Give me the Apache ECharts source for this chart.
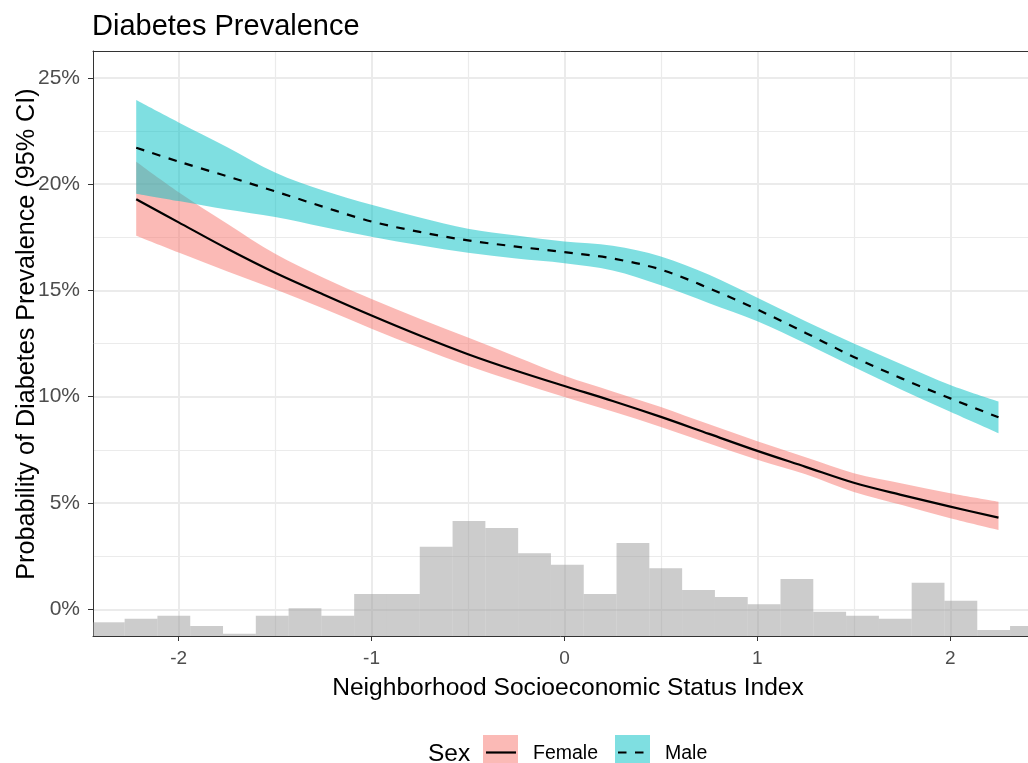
<!DOCTYPE html>
<html>
<head>
<meta charset="utf-8">
<script src="https://cdn.jsdelivr.net/npm/echarts@6/dist/echarts.min.js"></script>
<style>html,body{margin:0;padding:0;background:#fff}#c{width:1028px;height:763px}</style>
</head>
<body>
<div id="c"></div>
<script>
// ---- data ----
const xGrid = [-2.22, -2, -1.75, -1.5, -1.25, -1, -0.75, -0.5, -0.25, 0, 0.25, 0.5, 0.75, 1, 1.25, 1.5, 1.75, 2, 2.25];

const femaleFit   = [19.29, 18.2, 16.97, 15.83, 14.81, 13.82, 12.88, 12.0, 11.22, 10.5, 9.8, 9.05, 8.25, 7.45, 6.7, 5.95, 5.37, 4.83, 4.31];
const femaleUpper = [21.05, 19.62, 18.15, 16.72, 15.6, 14.6, 13.67, 12.78, 11.88, 10.98, 10.25, 9.52, 8.7, 7.9, 7.15, 6.4, 5.92, 5.46, 5.06];
const femaleLower = [17.57, 16.78, 15.9, 15.05, 14.15, 13.2, 12.3, 11.45, 10.7, 9.98, 9.3, 8.58, 7.8, 7.03, 6.35, 5.52, 4.9, 4.28, 3.73];

const maleFit   = [21.71, 21.06, 20.37, 19.66, 18.93, 18.24, 17.75, 17.35, 17.06, 16.8, 16.5, 15.98, 15.1, 14.1, 13.0, 11.87, 10.85, 9.92, 9.03];
const maleUpper = [23.95, 22.9, 21.75, 20.55, 19.7, 19.03, 18.43, 17.9, 17.58, 17.3, 17.1, 16.6, 15.73, 14.65, 13.55, 12.5, 11.52, 10.55, 9.77];
const maleLower = [19.55, 19.2, 18.8, 18.45, 17.98, 17.52, 17.12, 16.77, 16.5, 16.28, 15.94, 15.24, 14.4, 13.55, 12.5, 11.4, 10.32, 9.29, 8.28];

// histogram of the index (relative bar heights, bins of width 0.17 starting at -2.45)
const histStart = -2.45;
const histWidth = 0.17;
const histHeights = [13.7, 17.3, 20.3, 10, 2.3, 20.3, 27.7, 20.3, 42, 42, 89.3, 115, 108, 82.7, 71.3, 42, 93, 67.7, 46, 39, 31.7, 57, 24.3, 20.3, 17.3, 53.3, 35.3, 6, 10];
const histMax = 585;

const xTicks = [-2, -1, 0, 1, 2];
const xMinor = [-1.5, -0.5, 0.5, 1.5];
const yTicks = [0, 5, 10, 15, 20, 25];
const yMinor = [2.5, 7.5, 12.5, 17.5, 22.5];
const xMin = -2.444, xMax = 2.403;
const yMin = -1.256, yMax = 26.26;

const titleText = 'Diabetes Prevalence';
const xTitle = 'Neighborhood Socioeconomic Status Index';
const yTitle = 'Probability of Diabetes Prevalence (95% CI)';
const legendTitle = 'Sex';
const groups = ['Female', 'Male'];

// ---- build ----
const FONT = '"Liberation Sans", Arial, sans-serif';
const PINK = 'rgba(248,118,109,0.5)';
const CYAN = 'rgba(0,191,196,0.5)';
const BORDER = {show: true, onZero: false, lineStyle: {color: '#333', width: 1}};
const histData = histHeights.map((h, i) => [histStart + i * histWidth, histStart + (i + 1) * histWidth, h]);

// Catmull-Rom spline through pixel points -> SVG path commands
function splineCmds(p, startWithMove) {
  let d = (startWithMove ? 'M' : 'L') + p[0][0] + ' ' + p[0][1];
  const n = p.length;
  for (let i = 0; i < n - 1; i++) {
    const a = p[Math.max(i - 1, 0)], b = p[i], c = p[i + 1], e = p[Math.min(i + 2, n - 1)];
    const c1x = b[0] + (c[0] - a[0]) / 6, c1y = b[1] + (c[1] - a[1]) / 6;
    const c2x = c[0] - (e[0] - b[0]) / 6, c2y = c[1] - (e[1] - b[1]) / 6;
    d += ' C' + c1x + ' ' + c1y + ' ' + c2x + ' ' + c2y + ' ' + c[0] + ' ' + c[1];
  }
  return d;
}

function bandSeries(upper, lower, color) {
  return {
    type: 'custom', xAxisIndex: 0, yAxisIndex: 0, silent: true,
    data: xGrid.map((x, i) => [x, lower[i], upper[i]]),
    encode: {x: 0, y: [1, 2]},
    renderItem: function (params, api) {
      if (params.dataIndex !== 0) return;
      const up = xGrid.map((x, i) => api.coord([x, upper[i]]));
      const lo = xGrid.map((x, i) => api.coord([x, lower[i]])).reverse();
      const d = splineCmds(up, true) + ' ' + splineCmds(lo, false) + ' Z';
      return {type: 'path', shape: {pathData: d}, style: {fill: color, stroke: null}};
    }
  };
}

function lineSeries(name, vals, dash) {
  return {
    type: 'custom', name: name, xAxisIndex: 0, yAxisIndex: 0, silent: true,
    data: xGrid.map((x, i) => [x, vals[i]]),
    encode: {x: 0, y: 1},
    renderItem: function (params, api) {
      if (params.dataIndex !== 0) return;
      const p = xGrid.map((x, i) => api.coord([x, vals[i]]));
      return {type: 'path', shape: {pathData: splineCmds(p, true)},
        style: {fill: null, stroke: '#000', lineWidth: 2.2, lineDash: dash || null}};
    }
  };
}

const chart = echarts.init(document.getElementById('c'), null, {renderer: 'canvas'});

const option = {
  animation: false,
  backgroundColor: '#fff',
  title: {
    text: titleText, left: 92, top: 12, padding: 0,
    textStyle: {fontFamily: FONT, fontSize: 29, fontWeight: 'normal', color: '#000'}
  },
  grid: {left: 93, top: 51, right: 0, bottom: 127, show: false},
  xAxis: [
    {
      type: 'value', min: xMin, max: xMax, position: 'bottom',
      axisLine: BORDER,
      axisTick: {show: true, length: 5, lineStyle: {color: '#333', width: 1}, customValues: xTicks},
      axisLabel: {customValues: xTicks, fontFamily: FONT, fontSize: 19, color: '#4d4d4d', margin: 13},
      splitLine: {show: true, lineStyle: {color: '#ebebeb', width: 2}},
      name: xTitle, nameLocation: 'middle', nameGap: 40,
      nameTextStyle: {fontFamily: FONT, fontSize: 24.6, color: '#000', padding: [0, 0, 0, 15]}
    },
    {
      type: 'value', position: 'top', min: xMin, max: xMax,
      axisLine: BORDER, axisTick: {show: false, customValues: xMinor},
      axisLabel: {show: false, customValues: xMinor},
      splitLine: {show: true, lineStyle: {color: '#ebebeb', width: 1.2}}
    }
  ],
  yAxis: [
    {
      type: 'value', min: yMin, max: yMax, position: 'left',
      axisLine: BORDER,
      axisTick: {show: true, length: 5, lineStyle: {color: '#333', width: 1}, customValues: yTicks},
      axisLabel: {customValues: yTicks, formatter: v => v + '%', fontFamily: FONT, fontSize: 21, color: '#4d4d4d', margin: 13},
      splitLine: {show: true, lineStyle: {color: '#ebebeb', width: 2}}
    },
    {
      type: 'value', position: 'right', min: yMin, max: yMax,
      axisLine: {show: false, onZero: false}, axisTick: {show: false, customValues: yMinor},
      axisLabel: {show: false, customValues: yMinor},
      splitLine: {show: true, lineStyle: {color: '#ebebeb', width: 1.2}}
    },
    {type: 'value', min: 0, max: histMax, show: false, splitLine: {show: false}, axisLine: {onZero: false}}
  ],
  series: [
    {
      type: 'custom', xAxisIndex: 0, yAxisIndex: 2, data: histData, encode: {x: [0, 1], y: 2}, silent: true,
      renderItem: function (params, api) {
        const x0 = api.value(0), x1 = api.value(1), h = api.value(2);
        const p0 = api.coord([x0, h]);
        const p1 = api.coord([x1, 0]);
        const cs = params.coordSys;
        const l = Math.max(p0[0], cs.x), r = Math.min(p1[0], cs.x + cs.width);
        if (r <= l) return;
        return {type: 'rect', shape: {x: l, y: p0[1], width: r - l, height: p1[1] - p0[1]}, style: {fill: 'rgba(153,153,153,0.5)'}};
      }
    },
    bandSeries(femaleUpper, femaleLower, PINK),
    bandSeries(maleUpper, maleLower, CYAN),
    lineSeries(groups[0], femaleFit, null),
    lineSeries(groups[1], maleFit, [8.5, 8.5])
  ],
  graphic: [
    {type: 'text', x: 27, y: 334, rotation: Math.PI / 2,
      style: {text: yTitle, fontFamily: FONT, fontSize: 25.2, fill: '#000', align: 'center', verticalAlign: 'middle'}},
    {type: 'text', x: 428, y: 754, style: {text: legendTitle, fontFamily: FONT, fontSize: 24.5, fill: '#000', align: 'left', verticalAlign: 'middle'}},
    {type: 'rect', shape: {x: 483, y: 735, width: 35, height: 35}, style: {fill: PINK}},
    {type: 'line', shape: {x1: 486, y1: 752.5, x2: 516, y2: 752.5}, style: {stroke: '#000', lineWidth: 2.2}},
    {type: 'text', x: 533, y: 754, style: {text: groups[0], fontFamily: FONT, fontSize: 19.5, fill: '#000', align: 'left', verticalAlign: 'middle'}},
    {type: 'rect', shape: {x: 615, y: 735, width: 35, height: 35}, style: {fill: CYAN}},
    {type: 'line', shape: {x1: 618, y1: 752.5, x2: 648, y2: 752.5}, style: {stroke: '#000', lineWidth: 2.2, lineDash: [8.5, 8.5]}},
    {type: 'text', x: 665, y: 754, style: {text: groups[1], fontFamily: FONT, fontSize: 19.5, fill: '#000', align: 'left', verticalAlign: 'middle'}}
  ]
};
chart.setOption(option);
</script>
</body>
</html>
